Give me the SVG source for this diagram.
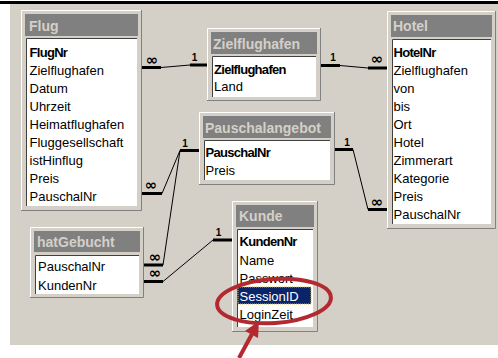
<svg xmlns="http://www.w3.org/2000/svg" width="498" height="358" viewBox="0 0 498 358">
  <style>
    .frame { fill: #d4d0c8; }
    .hl { fill: none; stroke: #ffffff; stroke-width: 1; }
    .sh { fill: none; stroke: #808080; stroke-width: 1; }
    .bar { fill: #808080; }
    .ttl { font-family: "Liberation Sans", Arial, sans-serif; font-weight: bold; font-size: 14px; fill: #d4d0c8; }
    .list { fill: #ffffff; }
    .sunk { fill: none; stroke: #404040; stroke-width: 1; }
    .fld { font-family: "Liberation Sans", Arial, sans-serif; font-size: 13px; fill: #000000; }
    .key { font-family: "Liberation Sans", Arial, sans-serif; font-size: 13px; font-weight: bold; letter-spacing: -0.7px; fill: #000000; }
    .sel { fill: #0a246a; stroke: #c8b868; stroke-width: 1; stroke-dasharray: 1 1; }
    .seltxt { fill: #ffffff; }
    .thick { stroke: #000000; stroke-width: 3; fill: none; }
    .thin { stroke: #000000; stroke-width: 1; fill: none; }
    .many { font-family: "DejaVu Sans", sans-serif; font-weight: bold; font-size: 15px; text-anchor: middle; fill: #000000; }
    .one { font-family: "Liberation Sans", Arial, sans-serif; font-weight: bold; font-size: 10px; text-anchor: middle; fill: #000000; }
    .mark { fill: none; stroke: #b22a30; stroke-width: 4; }
    .arrow { fill: #b22a30; }
  </style>

  <!-- page and workspace -->
  <rect x="0" y="0" width="498" height="358" fill="#ffffff"/>
  <rect x="0" y="1" width="498" height="3" fill="#000000"/>
  <rect x="10" y="4" width="488" height="341" fill="#d4d0c8"/>

  <!-- relationship lines -->
  <g id="connectors">
    <!-- Flug - Zielflughafen -->
    <line class="thick" x1="142" y1="67.5" x2="161" y2="67.5"/>
    <line class="thin" x1="161" y1="67.5" x2="190" y2="65"/>
    <line class="thick" x1="190" y1="65" x2="207" y2="65"/>
    <text class="many" x="152" y="64.5">∞</text>
    <text class="one" x="194.5" y="60.5">1</text>

    <!-- Zielflughafen - Hotel -->
    <line class="thick" x1="321" y1="65.5" x2="340" y2="65.5"/>
    <line class="thin" x1="340" y1="65.5" x2="368" y2="68"/>
    <line class="thick" x1="368" y1="68" x2="388" y2="68"/>
    <text class="one" x="333" y="61">1</text>
    <text class="many" x="377" y="63.5">∞</text>

    <!-- Pauschalangebot - Hotel -->
    <line class="thick" x1="335" y1="149.5" x2="353" y2="149.5"/>
    <line class="thin" x1="353" y1="149.5" x2="368" y2="209.5"/>
    <line class="thick" x1="368" y1="209.5" x2="388" y2="209.5"/>
    <text class="one" x="347" y="145.5">1</text>
    <text class="many" x="377" y="206.5">∞</text>

    <!-- Pauschalangebot - Flug -->
    <line class="thick" x1="180" y1="150.5" x2="199" y2="150.5"/>
    <line class="thin" x1="180" y1="150.5" x2="162" y2="193.5"/>
    <line class="thick" x1="142" y1="193.5" x2="162" y2="193.5"/>
    <text class="one" x="185" y="146.5">1</text>
    <text class="many" x="151" y="190">∞</text>

    <!-- Pauschalangebot - hatGebucht -->
    <line class="thin" x1="180" y1="150.5" x2="163" y2="265"/>
    <line class="thick" x1="144" y1="265" x2="163" y2="265"/>
    <text class="many" x="155" y="261.5">∞</text>

    <!-- Kunde - hatGebucht -->
    <line class="thick" x1="213" y1="240" x2="232" y2="240"/>
    <line class="thin" x1="213" y1="240" x2="163" y2="281.5"/>
    <line class="thick" x1="144" y1="281.5" x2="163" y2="281.5"/>
    <text class="one" x="218.5" y="235.5">1</text>
    <text class="many" x="155" y="278">∞</text>
  </g>

  <!-- table: Flug -->
  <g id="flug">
    <rect class="frame" x="21" y="10" width="121" height="201"/>
    <path class="hl" d="M21.5,210 V10.5 H141"/>
    <path class="sh" d="M21,210.5 H141.5 V10"/>
    <rect class="bar" x="25" y="14" width="113" height="22"/>
    <text class="ttl" x="29" y="31">Flug</text>
    <rect class="list" x="26" y="38" width="111" height="168"/>
    <path class="sunk" d="M26.5,206 V38.5 H137"/>
    <text class="key" x="29.5" y="56.5">FlugNr</text>
    <text class="fld" x="29.5" y="74.5">Zielflughafen</text>
    <text class="fld" x="29.5" y="92.5">Datum</text>
    <text class="fld" x="29.5" y="110.5">Uhrzeit</text>
    <text class="fld" x="29.5" y="128.5">Heimatflughafen</text>
    <text class="fld" x="29.5" y="146.5">Fluggesellschaft</text>
    <text class="fld" x="29.5" y="164.5">istHinflug</text>
    <text class="fld" x="29.5" y="182.5">Preis</text>
    <text class="fld" x="29.5" y="200.5">PauschalNr</text>
  </g>

  <!-- table: Zielflughafen -->
  <g id="zielflughafen">
    <rect class="frame" x="207" y="28" width="114" height="73"/>
    <path class="hl" d="M207.5,100 V28.5 H320"/>
    <path class="sh" d="M207,100.5 H320.5 V28"/>
    <rect class="bar" x="211" y="32" width="106" height="22"/>
    <text class="ttl" x="213" y="48.5">Zielflughafen</text>
    <rect class="list" x="212" y="56" width="104" height="41"/>
    <path class="sunk" d="M212.5,97 V56.5 H316"/>
    <text class="key" x="214" y="73.5">Zielflughafen</text>
    <text class="fld" x="214" y="91">Land</text>
  </g>

  <!-- table: Pauschalangebot -->
  <g id="pauschalangebot">
    <rect class="frame" x="199" y="112" width="136" height="73"/>
    <path class="hl" d="M199.5,184 V112.5 H334"/>
    <path class="sh" d="M199,184.5 H334.5 V112"/>
    <rect class="bar" x="203" y="116" width="128" height="22"/>
    <text class="ttl" x="205" y="132.5">Pauschalangebot</text>
    <rect class="list" x="204" y="140" width="126" height="40"/>
    <path class="sunk" d="M204.5,180 V140.5 H330"/>
    <text class="key" x="205.5" y="157">PauschalNr</text>
    <text class="fld" x="205.5" y="175">Preis</text>
  </g>

  <!-- table: Hotel -->
  <g id="hotel">
    <rect class="frame" x="387" y="11" width="109" height="218"/>
    <path class="hl" d="M387.5,228 V11.5 H495"/>
    <path class="sh" d="M387,228.5 H495.5 V11"/>
    <rect class="bar" x="391" y="15" width="101" height="22"/>
    <text class="ttl" x="393" y="31">Hotel</text>
    <rect class="list" x="392" y="39" width="99" height="185"/>
    <path class="sunk" d="M392.5,224 V39.5 H491"/>
    <text class="key" x="393.5" y="56.5">HotelNr</text>
    <text class="fld" x="393.5" y="74.6">Zielflughafen</text>
    <text class="fld" x="393.5" y="92.7">von</text>
    <text class="fld" x="393.5" y="110.8">bis</text>
    <text class="fld" x="393.5" y="128.9">Ort</text>
    <text class="fld" x="393.5" y="147">Hotel</text>
    <text class="fld" x="393.5" y="165.1">Zimmerart</text>
    <text class="fld" x="393.5" y="183.2">Kategorie</text>
    <text class="fld" x="393.5" y="201.3">Preis</text>
    <text class="fld" x="393.5" y="219.4">PauschalNr</text>
  </g>

  <!-- table: hatGebucht -->
  <g id="hatgebucht">
    <rect class="frame" x="30" y="227" width="114" height="71"/>
    <path class="hl" d="M30.5,297 V227.5 H143"/>
    <path class="sh" d="M30,297.5 H143.5 V227"/>
    <rect class="bar" x="34" y="231" width="106" height="21"/>
    <text class="ttl" x="37" y="246.5">hatGebucht</text>
    <rect class="list" x="35" y="255" width="104" height="39"/>
    <path class="sunk" d="M35.5,294 V255.5 H139"/>
    <text class="fld" x="38" y="271">PauschalNr</text>
    <text class="fld" x="38" y="289.5">KundenNr</text>
  </g>

  <!-- table: Kunde -->
  <g id="kunde">
    <rect class="frame" x="232" y="201" width="86" height="131"/>
    <path class="hl" d="M232.5,331 V201.5 H317"/>
    <path class="sh" d="M232,331.5 H317.5 V201"/>
    <rect class="bar" x="236" y="205" width="78" height="22"/>
    <text class="ttl" x="239" y="221">Kunde</text>
    <rect class="list" x="237" y="229" width="76" height="98"/>
    <path class="sunk" d="M237.5,327 V229.5 H313"/>
    <text class="key" x="239.5" y="246">KundenNr</text>
    <text class="fld" x="239.5" y="264.5">Name</text>
    <text class="fld" x="239.5" y="282.8">Passwort</text>
    <rect class="sel" x="238" y="287" width="73" height="17"/>
    <text class="fld seltxt" x="239.5" y="300.5">SessionID</text>
    <text class="fld" x="239.5" y="318.5">LoginZeit</text>
  </g>

  <!-- hand-drawn highlight around SessionID -->
  <g id="annotation">
    <ellipse class="mark" cx="274" cy="301" rx="57" ry="22" transform="rotate(-4 274 301)"/>
    <line x1="239" y1="358" x2="252" y2="334" stroke="#b22a30" stroke-width="4"/>
    <polygon class="arrow" points="259,321 258,338 245,331"/>
  </g>
</svg>
